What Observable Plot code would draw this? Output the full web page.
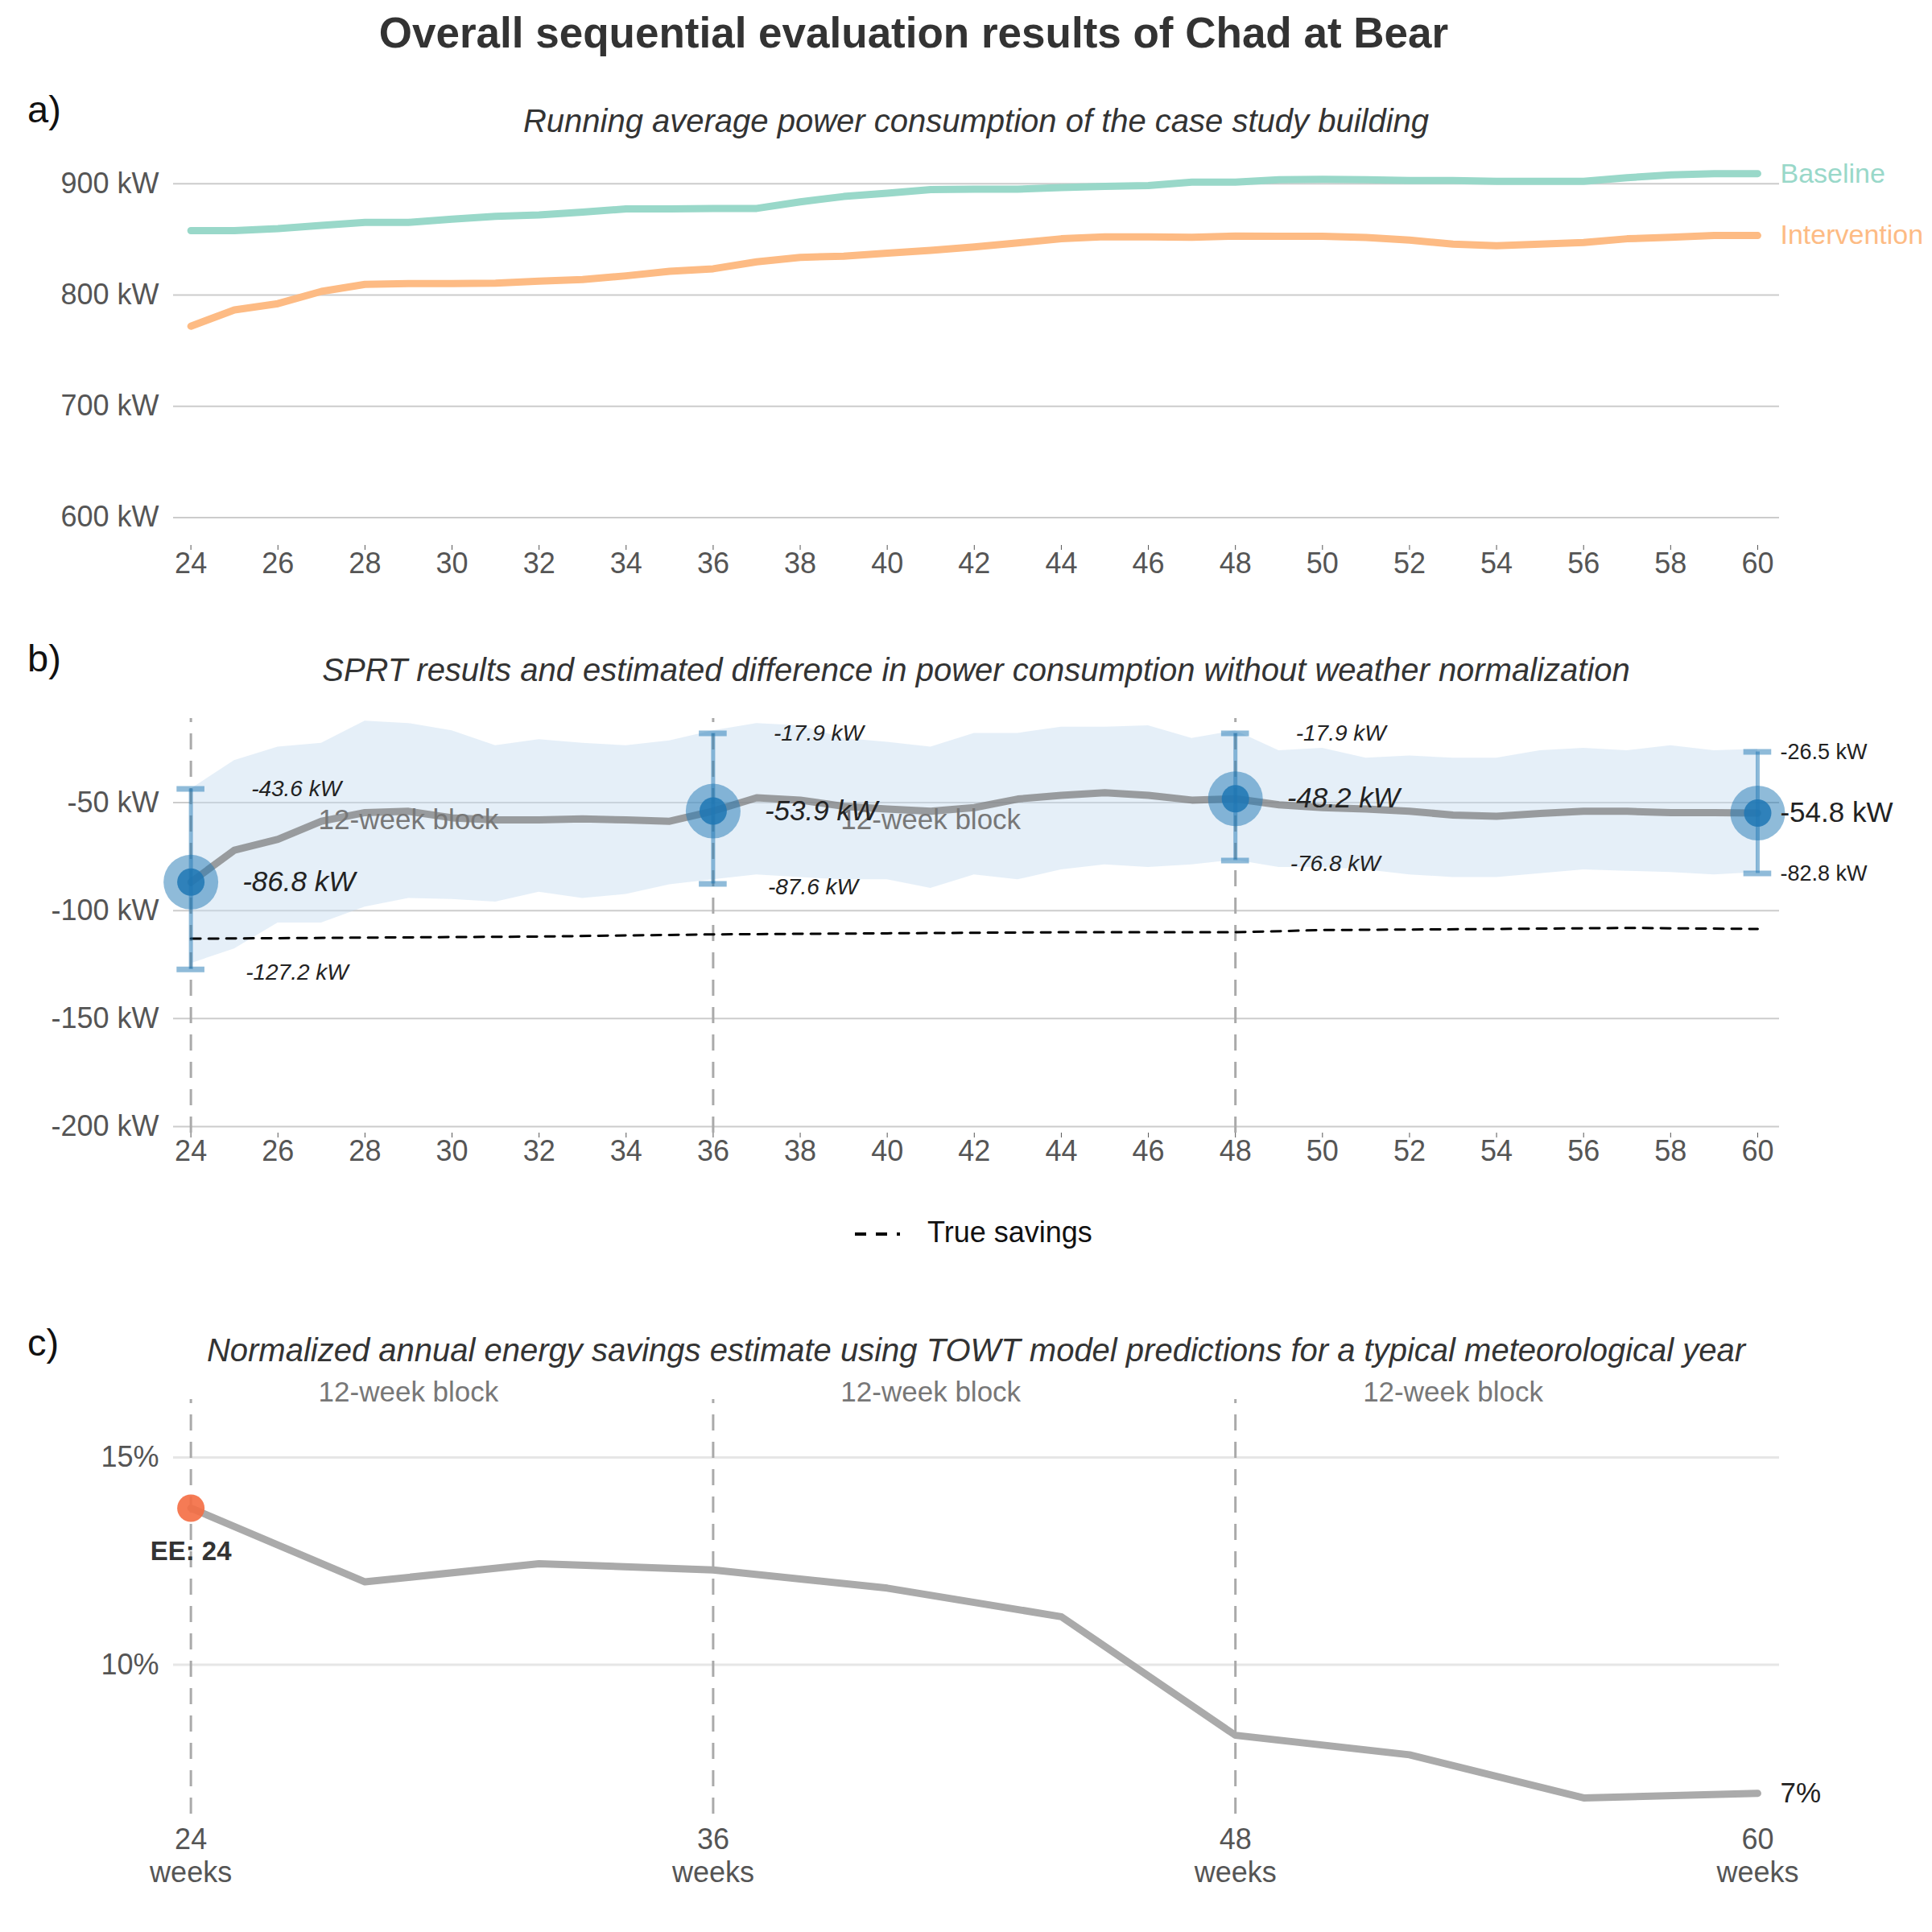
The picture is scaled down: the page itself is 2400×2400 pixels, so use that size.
<!DOCTYPE html>
<html>
<head>
<meta charset="utf-8">
<script src="https://cdn.jsdelivr.net/npm/d3@7"></script>
<script src="https://cdn.jsdelivr.net/npm/@observablehq/plot@0.6"></script>
<style>
  body { margin: 0; background: #fff; font-family: "Liberation Sans", Arial, sans-serif; }
  #wrap { position: relative; width: 2400px; height: 2400px; }
  .abs { position: absolute; }
  .title { left: 0; width: 2270px; text-align: center; top: 10px; font-size: 53px; font-weight: bold; color: #333; }
  .lab { left: 34px; font-size: 47px; color: #111; }
  .sub { left: 215px; width: 1995px; text-align: center; font-size: 40px; font-style: italic; color: #333; white-space: nowrap; }
</style>
</head>
<body>
<div id="wrap">
  <div class="abs title">Overall sequential evaluation results of Chad at Bear</div>
  <div class="abs lab" style="top:108px">a)</div>
  <div class="abs sub" style="top:128px">Running average power consumption of the case study building</div>
  <div id="pa" class="abs" style="left:0;top:185px"></div>
  <div class="abs lab" style="top:790px">b)</div>
  <div class="abs sub" style="top:810px">SPRT results and estimated difference in power consumption without weather normalization</div>
  <div id="pb" class="abs" style="left:0;top:892px"></div>
  <div id="leg" class="abs" style="left:1060px;top:1510px;font-size:36px;color:#111">
    <svg width="60" height="20" style="vertical-align:middle"><line x1="2" y1="10" x2="58" y2="10" stroke="#000" stroke-width="4" stroke-dasharray="14,12"/></svg>
    <span style="margin-left:22px">True savings</span>
  </div>
  <div class="abs lab" style="top:1640px">c)</div>
  <div class="abs sub" style="top:1655px">Normalized annual energy savings estimate using TOWT model predictions for a typical meteorological year</div>
  <div id="pc" class="abs" style="left:0;top:1678px"></div>
</div>
<script>
const weeks = d3.range(24, 61)
const baseline = [857.9,857.9,859.8,862.7,865.3,865.3,868.3,870.8,872,874.5,877.5,877.5,877.9,877.9,883.8,888.6,891.5,894.8,895.2,895.2,896.7,897.8,898.5,901.5,901.5,903.7,904.1,903.7,903,903,902.2,902.2,902.2,905.5,908.1,909.2,909.2]
const intervention = [772,786.7,792.3,803.3,809.6,810.3,810.3,810.7,812.5,814,817.3,821.4,823.6,829.9,833.9,835,837.6,840.2,843.2,846.9,850.6,852.4,852.4,852,853.1,852.8,852.8,851.7,849.4,845.8,844.3,845.8,847.2,850.6,852,853.5,853.5]

const estimate = [-86.8,-72,-67,-58.6,-54.6,-54,-57,-58,-58,-57.5,-58,-58.6,-53.9,-47.7,-48.8,-51.7,-52.9,-54,-52.3,-48.3,-46.6,-45.4,-46.6,-48.8,-48.2,-51,-52.3,-52.9,-54,-55.7,-56.3,-55,-54,-54,-54.6,-54.6,-54.8]
const bandUpper = [-43.7,-30.5,-24.2,-22.5,-12.2,-13.3,-16.7,-23.6,-20.8,-22.5,-23.6,-21.3,-16.7,-13.3,-14.4,-20.2,-22,-24.2,-17.9,-17.9,-15,-15,-14.4,-20.2,-16.7,-25.9,-24.8,-29.4,-28.3,-29.4,-29.4,-25.9,-24.8,-25.9,-23.6,-25.9,-25.3]
const bandLower = [-124.5,-117.7,-105.7,-105.7,-98.3,-94.3,-94.8,-96,-91.4,-94.3,-92.5,-88,-85.7,-83.4,-84.6,-85.7,-85.7,-89.7,-83.4,-85.7,-81.1,-78.8,-80,-78.8,-76.6,-80,-80,-81.1,-83.4,-84.6,-84.6,-82.9,-81.1,-81.7,-82.3,-83.4,-82.3]
const trueWeeks = [24,28,32,36,40,44,48,50,54,57,60]
const trueSavings = [-113,-112.5,-112,-111,-110.5,-110,-110,-109,-108.5,-108,-108.5]

const testWeeks = [24,36,48,60]
const testEst = [-86.8,-53.9,-48.2,-54.8]
const testLow = [-127.2,-87.6,-76.8,-82.8]
const testHigh = [-43.6,-17.9,-17.9,-26.5]

const savWeeks = [24,28,32,36,40,44,48,52,56,60]
const savings = [13.78,12.0,12.44,12.29,11.85,11.16,8.30,7.83,6.79,6.9]

const blockLines = [24,36,48]
const blockLabelX = [29,41,53]

const font = "Liberation Sans, Arial, sans-serif"
const common = {
  width: 2400, marginLeft: 215, marginRight: 190,
  x: {domain: [23.6, 60.5], label: null},
  style: {fontFamily: font, fontSize: "36px", color: "#555", background: "transparent", overflow: "visible"}
}
const A = weeks.map((w, i) => ({w, base: baseline[i], int: intervention[i], est: estimate[i], lo: bandLower[i], hi: bandUpper[i]}))
const T = testWeeks.map((w, i) => ({w, est: testEst[i], lo: testLow[i], hi: testHigh[i]}))
const caps = T.flatMap(d => [{w: d.w, v: d.lo}, {w: d.w, v: d.hi}])
const capHalf = 0.32

// a)
const pa = Plot.plot({
  ...common, height: 492, marginTop: 0, marginBottom: 0,
  y: {domain: [575, 931], label: null},
  marks: [
    Plot.gridY([600,700,800,900], {stroke: "#ccc", strokeOpacity: 1, strokeWidth: 2}),
    Plot.axisY([600,700,800,900], {tickSize: 0, tickPadding: 18, tickFormat: d => d + " kW", fill: "#555", label: null}),
    Plot.line(A, {x: "w", y: "base", stroke: "#99d8c9", strokeWidth: 9}),
    Plot.line(A, {x: "w", y: "int", stroke: "#fdbb84", strokeWidth: 9}),
    Plot.text([A[A.length-1]], {x: "w", y: "base", text: () => "Baseline", fill: "#99d8c9", textAnchor: "start", dx: 28, fontSize: 34}),
    Plot.text([A[A.length-1]], {x: "w", y: "int", text: () => "Intervention", fill: "#fdbb84", textAnchor: "start", dx: 28, fontSize: 34})
  ]
})
document.getElementById("pa").append(pa)

// b)
const pb = Plot.plot({
  ...common, height: 515, marginTop: 0, marginBottom: 0,
  y: {domain: [-203, -11], label: null},
  marks: [
    Plot.gridY([-200,-150,-100,-50], {stroke: "#ccc", strokeOpacity: 1, strokeWidth: 2}),
    Plot.axisY([-200,-150,-100,-50], {tickSize: 0, tickPadding: 18, tickFormat: d => d + " kW", fill: "#555", label: null}),
    Plot.areaY(A, {x: "w", y1: "lo", y2: "hi", fill: "#c6dbef", fillOpacity: 0.45}),
    Plot.ruleX(blockLines, {x: d => d, y1: () => -203, y2: () => -11, stroke: "#aaa", strokeWidth: 3, strokeDasharray: "20,14"}),
    Plot.line(trueWeeks.map((w, i) => ({w, v: trueSavings[i]})), {x: "w", y: "v", stroke: "#000", strokeWidth: 3, strokeDasharray: "12,10"}),
    Plot.line(A, {x: "w", y: "est", stroke: "#777", strokeOpacity: 0.7, strokeWidth: 9}),
    Plot.text(blockLabelX.slice(0, 2), {x: d => d, y: () => -58, text: () => "12-week block", fill: "#777", fontSize: 35}),
    Plot.ruleX(T, {x: "w", y1: "lo", y2: "hi", stroke: "#1f77b4", strokeOpacity: 0.5, strokeWidth: 5}),
    Plot.ruleY(caps, {y: "v", x1: d => d.w - capHalf, x2: d => d.w + capHalf, stroke: "#1f77b4", strokeOpacity: 0.5, strokeWidth: 7}),
    Plot.dot(T, {x: "w", y: "est", r: 34, fill: "#1f77b4", fillOpacity: 0.5}),
    Plot.dot(T, {x: "w", y: "est", r: 17, fill: "#1f77b4", fillOpacity: 0.85}),
    Plot.text(T.slice(0, 3), {x: "w", y: "est", text: d => d.est + " kW", dx: 64, textAnchor: "start", fontStyle: "italic", fill: "#222", fontSize: 35}),
    Plot.text(T.slice(0, 3), {x: "w", y: "hi", text: d => d.hi + " kW", dx: 75, textAnchor: "start", fontStyle: "italic", fill: "#222", fontSize: 28}),
    Plot.text(T.slice(0, 3), {x: "w", y: "lo", text: d => d.lo + " kW", dx: 68, dy: 4, textAnchor: "start", fontStyle: "italic", fill: "#222", fontSize: 28}),
    Plot.text(T.slice(3), {x: "w", y: "est", text: d => d.est + " kW", dx: 28, textAnchor: "start", fill: "#222", fontSize: 35}),
    Plot.text(T.slice(3), {x: "w", y: "hi", text: d => d.hi + " kW", dx: 28, textAnchor: "start", fill: "#222", fontSize: 27}),
    Plot.text(T.slice(3), {x: "w", y: "lo", text: d => d.lo + " kW", dx: 28, textAnchor: "start", fill: "#222", fontSize: 27})
  ]
})
document.getElementById("pb").append(pb)

// c)
const S = savWeeks.map((w, i) => ({w, v: savings[i]}))
const pc = Plot.plot({
  ...common, height: 690, marginTop: 60, marginBottom: 115,
  y: {domain: [6.4, 16.4], label: null},
  marks: [
    Plot.gridY([10, 15], {stroke: "#e6e6e6", strokeOpacity: 1, strokeWidth: 3}),
    Plot.axisY([10, 15], {tickSize: 0, tickPadding: 18, tickFormat: d => d + "%", fill: "#555", label: null}),
    Plot.axisX([24, 36, 48, 60], {tickSize: 0, tickPadding: 14, tickFormat: d => d + "\nweeks", fill: "#555", lineHeight: 1.15, label: null}),
    Plot.ruleX(blockLines, {x: d => d, y1: () => 6.4, y2: () => 16.4, stroke: "#aaa", strokeWidth: 3, strokeDasharray: "20,14"}),
    Plot.text(blockLabelX, {x: d => d, frameAnchor: "top", dy: -22, text: () => "12-week block", fill: "#777", fontSize: 35}),
    Plot.line(S, {x: "w", y: "v", stroke: "#aaa", strokeWidth: 9}),
    Plot.dot([S[0]], {x: "w", y: "v", r: 17, fill: "#f46d43", fillOpacity: 0.9}),
    Plot.text([S[0]], {x: "w", y: "v", text: d => "EE: " + d.w, dy: 54, fontWeight: "bold", fill: "#333", fontSize: 33}),
    Plot.text([S[S.length-1]], {x: "w", y: "v", text: d => Math.round(d.v) + "%", dx: 28, textAnchor: "start", fill: "#222", fontSize: 35})
  ]
})
document.getElementById("pc").append(pc)
</script>
</body>
</html>
